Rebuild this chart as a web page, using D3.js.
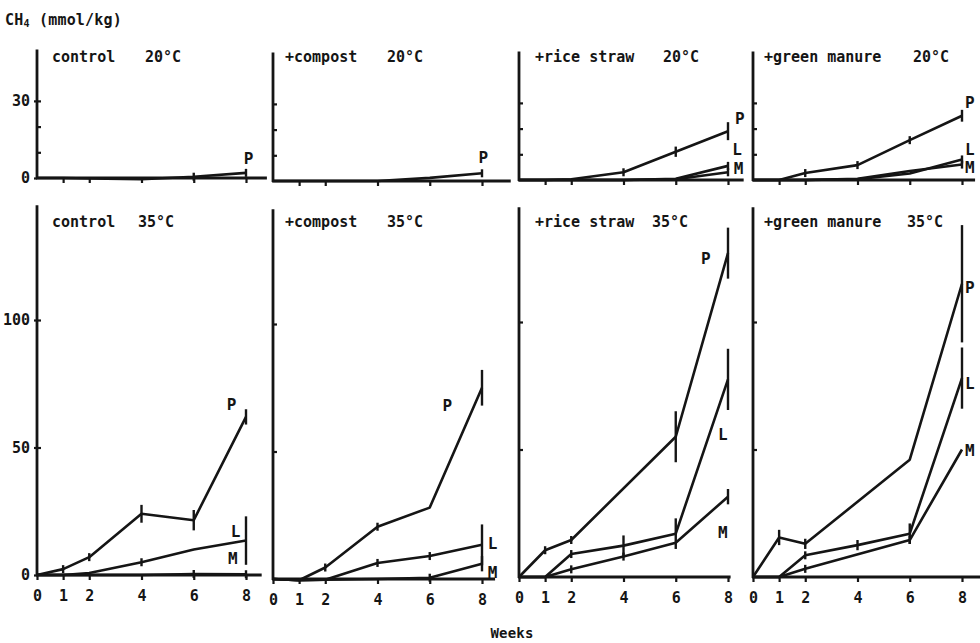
<!DOCTYPE html>
<html>
<head>
<meta charset="utf-8">
<script src="https://cdn.jsdelivr.net/npm/d3@7"></script>
<style>
body { margin: 0; background: #fff; }
svg { font-family: "DejaVu Sans Mono", monospace; font-weight: bold; }
</style>
</head>
<body>
<svg id="chart" width="980" height="643"></svg>
<script>
// sampling weeks
const weeks = [0, 1, 2, 4, 6, 8];
const treatments = ["control", "+compost", "+rice straw", "+green manure"];
const temps = ["20°C", "35°C"];
const seriesNames = ["P", "L", "M"];
const yTickVals = [[10, 20, 30], [50, 100]];
const yTickLabels = [[0, 30], [0, 50, 100]];

// CH4 (mmol/kg), one row per treatment, one value per week (null = not drawn)
const p20 = [
    [0, 0, -0.2, -0.5, 0.5, 2],
    [0, 0, 0, 0, 1.2, 3],
    [0, 0, 0.3, 3, 11, 19],
    [0, 0, 2.7, 5.8, 15.5, 25]
];
const l20 = [null, null, [0, 0, 0, 0, 0.5, 5.5], [0, 0, 0, 0.3, 2.5, 8]];
const m20 = [null, null, [0, 0, 0, 0, 0.3, 3], [0, 0, 0, 0.5, 3.5, 6]];

const p35 = [
    [0, 2.3, 7, 24, 21.5, 62],
    [0, -0.5, 4.5, 20.5, 28, 75],
    [0, 10.5, 14.5, null, 55, 127],
    [0, 15.5, 13, null, 46, 115]
];
const l35 = [
    [0, 0, 0.8, 5, 10, 13.5],
    [0, -0.5, -0.3, 6.3, 9, 13.4],
    [0, 0, 9, 12.3, 17, 77.5],
    [0, 0, 8.5, 12.5, 17, 78]
];
const m35 = [
    [0, 0, 0, 0, 0.4, 0.3],
    [0, -0.5, -0.3, 0, 0.5, 6],
    [0, 0, 3, 8, 13.4, 31.5],
    [0, 0, 3.2, null, 14.5, 50]
];

// half error bars (null = no marker)
const p20err = [
    [null, null, null, null, 0, 0],
    [null, null, null, null, null, 0],
    [null, null, null, 0, 2, 3.5],
    [null, null, 0, 0, 1, 2.3]
];
const l20err = [null, null, [null, null, null, null, null, 0], [null, null, null, null, null, 0]];
const m20err = [null, null, [null, null, null, null, null, 0], [null, null, null, null, null, 0]];
const p35err = [
    [null, 0, 1.5, 3.5, 4, 3],
    [null, null, 1, 1, null, 7],
    [null, 0, 0, null, 10, 10],
    [null, 3, 2, null, null, 23]
];
const l35err = [
    [null, null, null, 0, null, 9.5],
    [null, null, null, 0, 0, 8],
    [null, null, 0, 4, 6, 12],
    [null, null, 0, 2, 4, 12]
];
const m35err = [
    [null, null, null, null, 0, 0],
    [null, null, null, null, 0, 3],
    [null, null, 0, 0, null, 3],
    [null, null, 0, null, 0, null]
];

// where the P/L/M letters sit, in [week, value]
const labelPos = [
    [[[8.1, 7.4]], [[8.05, 9.3]],
     [[8.45, 24], [8.35, 11.7], [8.4, 4.3]],
     [[8.3, 30], [8.3, 11.7], [8.3, 5]]],
    [[[7.45, 66.7], [7.6, 16.9], [7.5, 6.3]],
     [[6.67, 68], [8.4, 14], [8.4, 2.7]],
     [[7.15, 125], [7.8, 55.7], [7.8, 17.3]],
     [[8.3, 113.7], [8.3, 76], [8.3, 49.8]]]
];

const values = [[p20, l20, m20], [p35, l35, m35]];
const errors = [[p20err, l20err, m20err], [p35err, l35err, m35err]];

// layout
const colX = [37, 273, 519, 753];
const weekSpan = 209;
const rowBase = [[178, 181, 180, 180], [575, 579, 577, 577]];
const yMax = [50, 145];
const pxPerUnit = [2.57, 2.55];
const axisEnd = [[8.8, 9.1, 8.6, 8.5], [8.6, 8.5, 8.1, 8.7]];
const titleY = [62, 227];
const nameOff = [15, 12, 16, 11];
const tempOff = [[108, 114, 144, 160], [101, 114, 133, 154]];
const ink = "#151515";

const svg = d3.select("#chart");

svg.append("text")
    .attr("x", 5).attr("y", 25)
    .attr("font-size", 15).attr("letter-spacing", 0.2).attr("fill", ink)
    .call(t => {
        t.append("tspan").text("CH");
        t.append("tspan").attr("font-size", 10).attr("dy", 2).text("4");
        t.append("tspan").attr("dy", -2).text(" (mmol/kg)");
    });

svg.append("text")
    .attr("x", 512).attr("y", 638)
    .attr("text-anchor", "middle")
    .attr("font-size", 14).attr("letter-spacing", 0.2).attr("fill", ink)
    .text("Weeks");

for (let r = 0; r < 2; r++) {
    for (let c = 0; c < 4; c++) {
        const base = rowBase[r][c];
        const x = d3.scaleLinear().domain([0, 8]).range([colX[c], colX[c] + weekSpan]);
        const y = d3.scaleLinear().domain([0, yMax[r]]).range([base, base - yMax[r] * pxPerUnit[r]]);
        const g = svg.append("g");

        // axis lines
        g.append("line")
            .attr("x1", x(0) - 1).attr("x2", x(axisEnd[r][c]))
            .attr("y1", y(0)).attr("y2", y(0))
            .attr("stroke", ink).attr("stroke-width", 2.8);
        g.append("line")
            .attr("x1", x(0)).attr("x2", x(0))
            .attr("y1", y(0) + 1).attr("y2", y(yMax[r]))
            .attr("stroke", ink).attr("stroke-width", 2.8);

        const xa = d3.axisBottom(x)
            .tickValues(r ? weeks : weeks.slice(1))
            .tickSize(5).tickSizeOuter(0).tickPadding(10)
            .tickFormat(r ? d3.format("d") : "");
        g.append("g")
            .attr("transform", `translate(0,${y(0)})`)
            .call(xa)
            .call(a => a.select(".domain").remove())
            .call(a => a.selectAll("line").attr("stroke", ink).attr("stroke-width", 2.2))
            .call(a => a.selectAll("text")
                .attr("font-size", 15).attr("font-family", "DejaVu Sans Mono")
                .attr("font-weight", "bold").attr("fill", ink));

        g.append("g")
            .attr("transform", `translate(${x(0)},0)`)
            .call(d3.axisRight(y).tickValues(yTickVals[r]).tickSize(4).tickFormat(""))
            .call(a => a.select(".domain").remove())
            .call(a => a.selectAll("line").attr("stroke", ink).attr("stroke-width", 2.2));

        if (c == 0) {
            g.append("g")
                .attr("transform", `translate(${x(0)},0)`)
                .call(d3.axisLeft(y).tickValues(yTickLabels[r]).tickSize(3).tickPadding(4))
                .call(a => a.select(".domain").remove())
                .call(a => a.selectAll("line").attr("stroke", ink).attr("stroke-width", 2.2))
                .call(a => a.selectAll("text")
                    .attr("font-size", 15).attr("font-family", "DejaVu Sans Mono")
                    .attr("font-weight", "bold").attr("fill", ink));
        }

        // panel title
        g.append("text")
            .attr("x", colX[c] + nameOff[c]).attr("y", titleY[r])
            .attr("font-size", 15).attr("fill", ink)
            .text(treatments[c]);
        g.append("text")
            .attr("x", colX[c] + tempOff[r][c]).attr("y", titleY[r])
            .attr("font-size", 15).attr("fill", ink)
            .text(temps[r]);

        const line = d3.line().x(d => x(d.w)).y(d => y(d.v));

        seriesNames.forEach((name, s) => {
            const vals = values[r][s][c];
            if (!vals) return;
            const errs = errors[r][s][c];
            const pts = weeks.map((w, i) => ({ w: w, v: vals[i], e: errs ? errs[i] : null }))
                .filter(d => d.v != null);

            g.append("path")
                .attr("d", line(pts))
                .attr("fill", "none")
                .attr("stroke", ink)
                .attr("stroke-width", 2.6)
                .attr("stroke-linejoin", "round");

            g.selectAll(null)
                .data(pts.filter(d => d.e != null))
                .join("line")
                .attr("x1", d => x(d.w)).attr("x2", d => x(d.w))
                .attr("y1", d => y(d.v) - Math.max(d.e * pxPerUnit[r], 4))
                .attr("y2", d => y(d.v) + Math.max(d.e * pxPerUnit[r], 4))
                .attr("stroke", ink).attr("stroke-width", 2.4);

            const lp = labelPos[r][c][s];
            g.append("text")
                .attr("x", x(lp[0])).attr("y", y(lp[1]))
                .attr("text-anchor", "middle")
                .attr("dominant-baseline", "central")
                .attr("font-size", 16).attr("fill", ink)
                .text(name);
        });
    }
}
</script>
</body>
</html>
